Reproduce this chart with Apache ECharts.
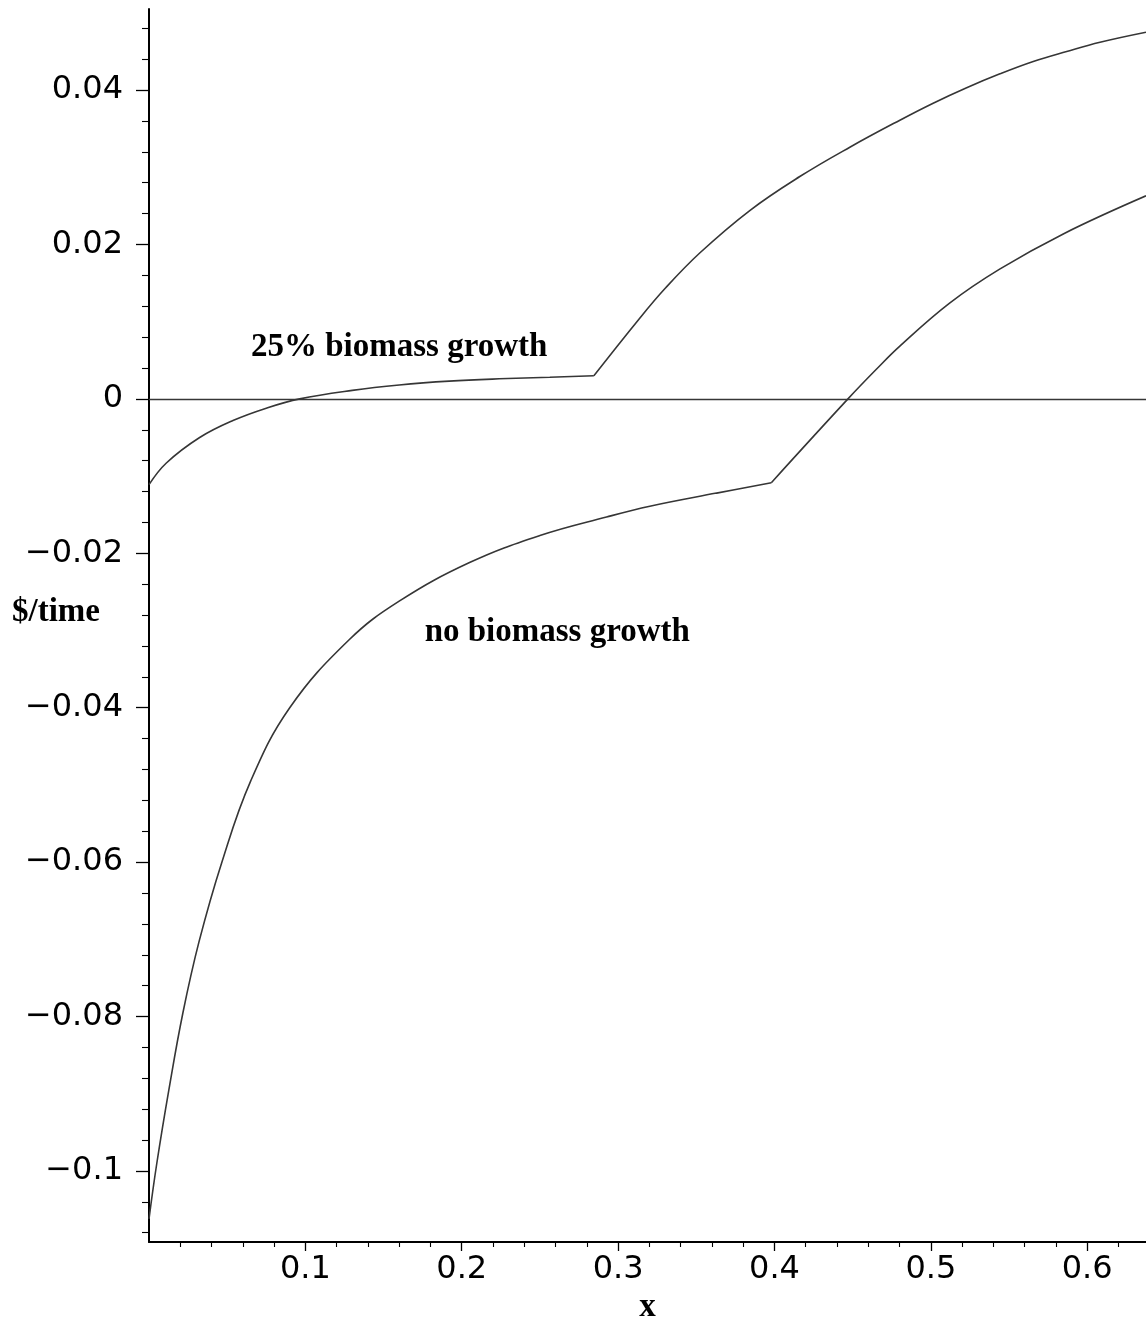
<!DOCTYPE html>
<html>
<head>
<meta charset="utf-8">
<script src="https://cdn.jsdelivr.net/npm/echarts@6/dist/echarts.min.js"></script>
<style>
  html, body { margin: 0; padding: 0; background: #ffffff; }
  #chart { width: 1146px; height: 1323px; }
</style>
</head>
<body>
<div id="chart"></div>
<script>
// Axis extents
const xMin = 0, xMax = 0.6376;
const yMin = -0.1092, yMax = 0.0505;

// Major tick positions and their labels
const xTicks = [0.1, 0.2, 0.3, 0.4, 0.5, 0.6];
const xTickLabels = ['0.1', '0.2', '0.3', '0.4', '0.5', '0.6'];
const yTicks = [0.04, 0.02, 0, -0.02, -0.04, -0.06, -0.08, -0.1];
const yTickLabels = ['0.04', '0.02', '0', '\u22120.02', '\u22120.04', '\u22120.06', '\u22120.08', '\u22120.1'];
const xMinorStep = 0.02, yMinorStep = 0.004;

// 25% biomass growth: profit rate vs x (kink where the policy switches)
const growthX = [0, 0.0111, 0.0324, 0.0537, 0.075, 0.0964, 0.13, 0.16, 0.192, 0.224, 0.2563, 0.2845,
                 0.3128, 0.33, 0.3522, 0.3842, 0.4162, 0.4482, 0.4802, 0.5015, 0.5229, 0.5442, 0.5655, 0.5869, 0.6082, 0.6376];
const growthY = [-0.0111, -0.0083, -0.0050, -0.0028, -0.0012, 0.0000, 0.0011, 0.0018, 0.0023, 0.0026, 0.0028, 0.0030,
                 0.0102, 0.0143, 0.0189, 0.0244, 0.0288, 0.0326, 0.0361, 0.0383, 0.0403, 0.0421, 0.0437, 0.0450, 0.0462, 0.0475];
const growthKink = 0.2845;

// No biomass growth
const noGrowthX = [0, 0.005, 0.0127, 0.0216, 0.032, 0.0466, 0.065, 0.09, 0.128, 0.16, 0.205, 0.25, 0.2926, 0.3203, 0.363, 0.398,
                   0.447, 0.465, 0.48, 0.512, 0.544, 0.585, 0.6376];
const noGrowthY = [-0.1062, -0.0990, -0.0895, -0.0796, -0.0703, -0.0600, -0.0495, -0.0400, -0.0312, -0.0262, -0.0212, -0.0177, -0.0153, -0.0139, -0.0122, -0.01085,
                   0.0000, 0.0038, 0.0068, 0.0124, 0.0168, 0.0214, 0.0263];
const noGrowthKink = 0.398;

// Curve annotations (data coordinates of text centres)
const annotations = [
  { text: '25% biomass growth', x: 0.160, y: 0.0066 },
  { text: 'no biomass growth', x: 0.2611, y: -0.0303 }
];

function pairs(xs, ys) { return xs.map((x, i) => [x, ys[i]]); }
function splitAt(xs, ys, k) {
  const all = pairs(xs, ys);
  const idx = xs.indexOf(k);
  return [all.slice(0, idx + 1), all.slice(idx)];
}
function minorValues(lo, hi, step, majorEvery) {
  const out = [];
  const n0 = Math.ceil(lo / step - 1e-9), n1 = Math.floor(hi / step + 1e-9);
  for (let n = n0; n <= n1; n++) {
    if (n % majorEvery !== 0) out.push(+(n * step).toFixed(6));
  }
  return out;
}
function labelFor(values, labels) {
  return v => {
    const i = values.findIndex(t => Math.abs(t - v) < 1e-9);
    return i >= 0 ? labels[i] : '';
  };
}

const xMinor = minorValues(xMin, xMax, xMinorStep, 5);
const yMinor = minorValues(yMin, yMax, yMinorStep, 5);

const [g1, g2] = splitAt(growthX, growthY, growthKink);
const [n1, n2] = splitAt(noGrowthX, noGrowthY, noGrowthKink);

const curveStyle = { color: '#363636', width: 1.6 };
function curve(data, extra) {
  return Object.assign({
    type: 'line', data: data, showSymbol: false, symbol: 'none',
    smooth: 0.4, lineStyle: curveStyle, silent: true,
    xAxisIndex: 0, yAxisIndex: 0, z: 3
  }, extra || {});
}

const tickFont = { fontFamily: '"DejaVu Sans", sans-serif', fontSize: 32, color: '#000' };
const axisLineStyle = { color: '#000', width: 2 };

const chart = echarts.init(document.getElementById('chart'), null, { renderer: 'canvas' });
chart.setOption({
  animation: false,
  backgroundColor: '#ffffff',
  grid: { left: 149, right: 0, top: 9, bottom: 81, containLabel: false },
  xAxis: [
    {
      type: 'value', min: xMin, max: xMax, position: 'bottom',
      axisLine: { show: true, onZero: false, lineStyle: axisLineStyle },
      axisTick: { show: true, customValues: xTicks, length: 9, lineStyle: { color: '#000', width: 1.3 } },
      axisLabel: Object.assign({ show: true, customValues: xTicks, margin: 12, formatter: labelFor(xTicks, xTickLabels) }, tickFont),
      splitLine: { show: false }
    },
    {
      type: 'value', min: xMin, max: xMax, position: 'bottom',
      axisLine: { show: false, onZero: false },
      axisTick: { show: true, customValues: xMinor, length: 5, lineStyle: { color: '#000', width: 1.1 } },
      axisLabel: { show: false },
      splitLine: { show: false }
    }
  ],
  yAxis: [
    {
      type: 'value', min: yMin, max: yMax, position: 'left',
      axisLine: { show: true, onZero: false, lineStyle: axisLineStyle },
      axisTick: { show: true, customValues: yTicks, length: 13, lineStyle: { color: '#000', width: 1.3 } },
      axisLabel: Object.assign({ show: true, customValues: yTicks, margin: 26, formatter: labelFor(yTicks, yTickLabels) }, tickFont),
      splitLine: { show: false }
    },
    {
      type: 'value', min: yMin, max: yMax, position: 'left',
      axisLine: { show: false, onZero: false },
      axisTick: { show: true, customValues: yMinor, length: 7, lineStyle: { color: '#000', width: 1.1 } },
      axisLabel: { show: false },
      splitLine: { show: false }
    }
  ],
  series: [
    curve(g1, {
      name: '25% biomass growth',
      markLine: {
        silent: true, symbol: 'none', label: { show: false },
        lineStyle: { color: '#363636', width: 1.3, type: 'solid' },
        data: [{ yAxis: 0 }]
      }
    }),
    curve(g2, { name: '25% biomass growth' }),
    curve(n1, { name: 'no biomass growth' }),
    curve(n2, { name: 'no biomass growth' })
  ]
});

// Text labels: curve annotations in data space, axis titles beside the axes
const serifBold = 'bold 33px "Liberation Serif", "Times New Roman", serif';
const gridRect = { left: 149, right: 1146, top: 9, bottom: 1242 };
const graphics = annotations.map(a => {
  const p = chart.convertToPixel({ gridIndex: 0 }, [a.x, a.y]);
  return {
    type: 'text', x: p[0], y: p[1], silent: true, z: 10,
    style: { text: a.text, font: serifBold, fill: '#000', align: 'center', verticalAlign: 'middle' }
  };
});
graphics.push({
  type: 'text', x: 56, y: chart.convertToPixel({ yAxisIndex: 0 }, -0.0276), silent: true, z: 10,
  style: { text: '$/time', font: serifBold, fill: '#000', align: 'center', verticalAlign: 'middle' }
});
graphics.push({
  type: 'text', x: (gridRect.left + gridRect.right) / 2, y: 1307, silent: true, z: 10,
  style: { text: 'x', font: serifBold, fill: '#000', align: 'center', verticalAlign: 'middle' }
});
chart.setOption({ graphic: graphics });
</script>
</body>
</html>
